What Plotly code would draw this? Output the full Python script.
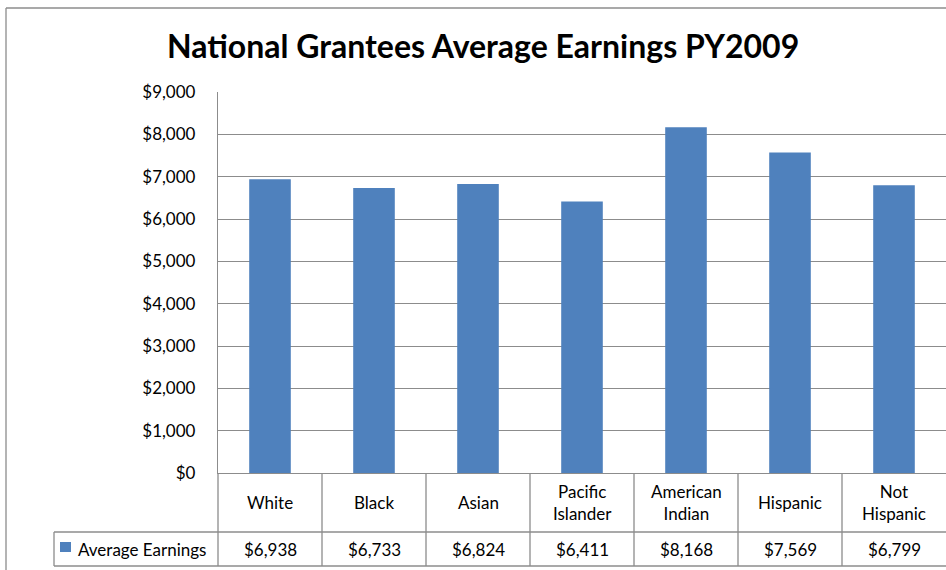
import plotly.graph_objects as go

categories = ["White", "Black", "Asian", "Pacific<br>Islander", "American<br>Indian", "Hispanic", "Not<br>Hispanic"]
earnings = [6938, 6733, 6824, 6411, 8168, 7569, 6799]
series_name = "Average Earnings"
title_text = "National Grantees Average Earnings PY2009"
y_ticks = [0, 1000, 2000, 3000, 4000, 5000, 6000, 7000, 8000, 9000]

W, H = 946, 570
L, R, T, B = 218, 0, 92, 97
PW = W - L - R
PH = H - T - B
BAR = "#4F81BD"
LINE = "#8C8C8C"
FONT = "Lato"
FS = 17

def px_x(p):
    return (p - L) / PW

def px_y(p):
    return (H - B - p) / PH

n = len(categories)
xs = list(range(n))

fig = go.Figure()
fig.add_trace(go.Bar(x=xs, y=earnings, name=series_name, marker=dict(color=BAR, line=dict(width=0)),
                     width=0.4, showlegend=False))

shapes = []
def hline(y, x0, x1):
    shapes.append(dict(type="line", xref="paper", yref="paper", x0=px_x(x0), x1=px_x(x1),
                       y0=px_y(y), y1=px_y(y), line=dict(color=LINE, width=1.3)))
def vline(x, y0, y1):
    shapes.append(dict(type="line", xref="paper", yref="paper", x0=px_x(x), x1=px_x(x),
                       y0=px_y(y0), y1=px_y(y1), line=dict(color=LINE, width=1.3)))

# outer chart border
hline(8, 6, 960)
vline(6, 8, 580)
# data table
row1_bot = 532
row2_bot = 566
hline(row1_bot, 54, 960)
hline(row2_bot, 54, 960)
vline(54, row1_bot, row2_bot)
vline(L, H - B, row2_bot)
cell = PW / n
for k in range(1, n):
    vline(L + k * cell, H - B, row2_bot)

annotations = []
for i, (c, v) in enumerate(zip(categories, earnings)):
    annotations.append(dict(x=i, xref="x", y=px_y((H - B + row1_bot) / 2), yref="paper",
                            text=c, showarrow=False, font=dict(family=FONT, size=FS, color="#000"),
                            xanchor="center", yanchor="middle"))
    annotations.append(dict(x=i, xref="x", y=px_y((row1_bot + row2_bot) / 2 + 0.5), yref="paper",
                            text=f"${v:,}", showarrow=False, font=dict(family=FONT, size=FS, color="#000"),
                            xanchor="center", yanchor="middle"))

# legend key in table
shapes.append(dict(type="rect", xref="paper", yref="paper", x0=px_x(60), x1=px_x(71),
                   y0=px_y(542), y1=px_y(552), fillcolor=BAR, line=dict(width=0)))
annotations.append(dict(x=px_x(76), xref="paper", y=px_y(549.5), yref="paper", text=series_name,
                        showarrow=False, font=dict(family=FONT, size=FS, color="#000"),
                        xanchor="left", yanchor="middle"))

# title
annotations.append(dict(x=px_x(483), xref="paper", y=px_y(46), yref="paper", text=f"<b>{title_text}</b>",
                        showarrow=False, font=dict(family=FONT, size=32, color="#000"),
                        xanchor="center", yanchor="middle"))

fig.update_layout(
    width=W, height=H,
    margin=dict(l=L, r=R, t=T, b=B, pad=0),
    paper_bgcolor="white", plot_bgcolor="white",
    shapes=shapes, annotations=annotations,
    bargap=0.6,
    font=dict(family=FONT, size=FS, color="#000"),
    xaxis=dict(range=[-0.5, n - 0.5], showticklabels=False, ticks="", showgrid=False,
               showline=True, linecolor=LINE, linewidth=1.3, zeroline=False, fixedrange=True),
    yaxis=dict(range=[0, 9000], tickvals=y_ticks, ticktext=[f"${v:,}" for v in y_ticks],
               showgrid=True, gridcolor=LINE, gridwidth=1.3, showline=True, linecolor=LINE,
               linewidth=1.3, zeroline=False, ticks="", ticklabelstandoff=18,
               tickfont=dict(family=FONT, size=FS, color="#000")),
)

fig.write_html("out.html", config={"displayModeBar": False},
               post_script="document.body.style.margin='0px';document.body.style.overflow='hidden';")
